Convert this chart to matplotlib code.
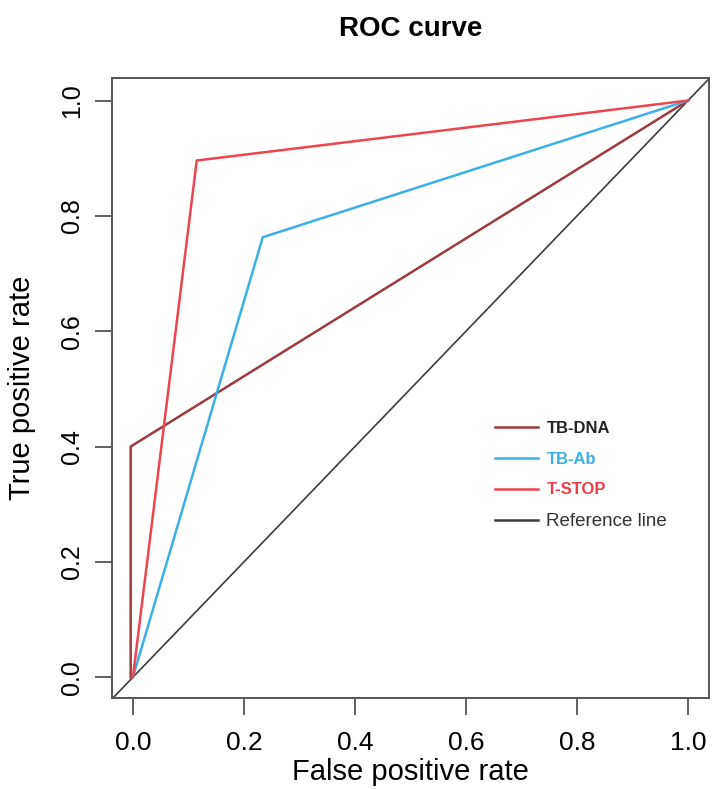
import matplotlib
matplotlib.use("Agg")
import matplotlib.pyplot as plt
from matplotlib.lines import Line2D

plt.rcParams["font.family"] = ["Liberation Sans", "DejaVu Sans"]

# ROC points (false positive rate, true positive rate)
dna_fpr = [-0.004, -0.004, 1.0]
dna_tpr = [0.0, 0.40, 1.0]
ab_fpr = [0.0, 0.234, 1.0]
ab_tpr = [0.0, 0.763, 1.0]
stop_fpr = [0.0, 0.115, 1.0]
stop_tpr = [0.0, 0.896, 1.0]

ticks = [0.0, 0.2, 0.4, 0.6, 0.8, 1.0]
tick_labels = ["0.0", "0.2", "0.4", "0.6", "0.8", "1.0"]

legend_labels = ["TB-DNA", "TB-Ab", "T-STOP", "Reference line"]
legend_text_colors = ["#222222", "#3ab0e6", "#ee3b47", "#333333"]

c_dna = "#9e3a3e"
c_ab = "#3ab0e6"
c_stop = "#ee4450"
c_ref = "#3c3c3c"

fig = plt.figure(figsize=(7.12, 7.89), dpi=100)
ax = fig.add_axes([0.157, 0.1153, 0.839, 0.7858])

ax.axline((0, 0), (1, 1), color=c_ref, lw=1.2, zorder=1)
ax.plot(dna_fpr, dna_tpr, color=c_dna, lw=1.8, zorder=2)
ax.plot(ab_fpr, ab_tpr, color=c_ab, lw=1.8, zorder=3)
ax.plot(stop_fpr, stop_tpr, color=c_stop, lw=1.8, zorder=4)

ax.set_xlim(-0.038, 1.038)
ax.set_ylim(-0.036, 1.039)

ax.set_xticks(ticks)
ax.set_xticklabels(tick_labels, fontsize=19)
ax.set_yticks(ticks)
ax.set_yticklabels(tick_labels, fontsize=18, rotation=90, va="center")
ax.tick_params(axis="both", length=12, width=1.3, color="#555555", pad=8)
ax.tick_params(axis="x", pad=12)
for s in ax.spines.values():
    s.set_color("#555555")
    s.set_linewidth(1.4)

ax.set_xlabel("False positive rate", fontsize=21, labelpad=2)
ax.set_ylabel("True positive rate", fontsize=21, labelpad=17)
ax.set_title("ROC curve", fontsize=20, fontweight="bold", pad=30)

handles = [
    Line2D([], [], color=c_dna, lw=1.8),
    Line2D([], [], color=c_ab, lw=1.8),
    Line2D([], [], color=c_stop, lw=1.8),
    Line2D([], [], color=c_ref, lw=1.8),
]
leg = ax.legend(handles, legend_labels, loc="upper left", bbox_to_anchor=(0.63, 0.458),
                frameon=False, fontsize=12, handlelength=2.6, handletextpad=0.5,
                labelspacing=0.95, borderaxespad=0)
for i, t in enumerate(leg.get_texts()):
    t.set_color(legend_text_colors[i])
    if i < 3:
        t.set_fontweight("bold")
    else:
        t.set_fontsize(13.5)

fig.savefig("out.png", dpi=100)
